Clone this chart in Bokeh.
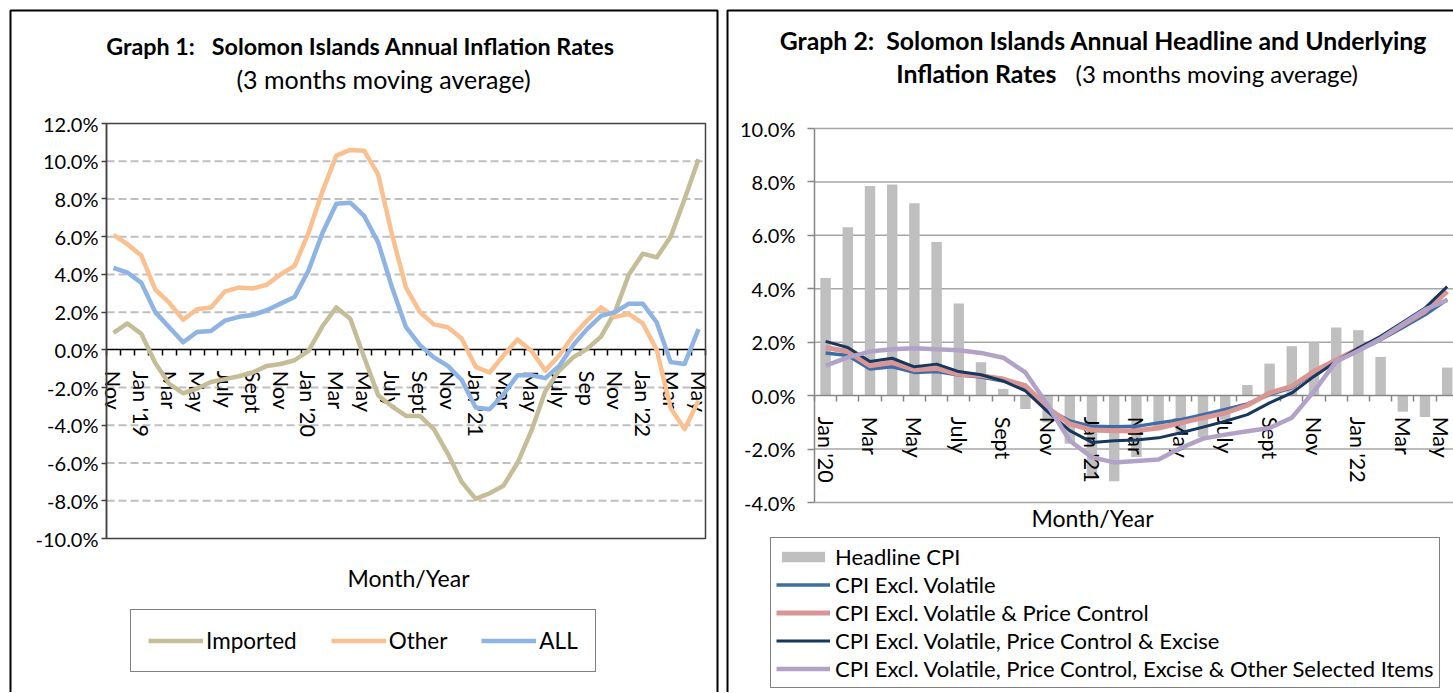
from math import pi
from bokeh.plotting import figure
from bokeh.models import (FixedTicker, PrintfTickFormatter, Label, Legend, LegendItem,
                          BoxAnnotation, Range1d)
from bokeh.layouts import row
from bokeh.embed import file_html
from bokeh.resources import INLINE

FONT = "Lato"
NB = "\u00a0"

# ---------------- Graph 1 data (Nov 2018 .. May 2022) ----------------
g1_months = ["Nov-18", "Dec-18",
             "Jan-19", "Feb-19", "Mar-19", "Apr-19", "May-19", "Jun-19", "Jul-19", "Aug-19", "Sep-19", "Oct-19", "Nov-19", "Dec-19",
             "Jan-20", "Feb-20", "Mar-20", "Apr-20", "May-20", "Jun-20", "Jul-20", "Aug-20", "Sep-20", "Oct-20", "Nov-20", "Dec-20",
             "Jan-21", "Feb-21", "Mar-21", "Apr-21", "May-21", "Jun-21", "Jul-21", "Aug-21", "Sep-21", "Oct-21", "Nov-21", "Dec-21",
             "Jan-22", "Feb-22", "Mar-22", "Apr-22", "May-22"]
g1_tick_labels = ["Nov", "Jan '19", "Mar", "May", "July", "Sept", "Nov", "Jan '20", "Mar", "May", "July",
                  "Sept", "Nov", "Jan '21", "Mar", "May", "July", "Sep", "Nov", "Jan '22", "Mar", "May"]
imported = [0.9, 1.4, 0.85, -0.7, -1.8, -2.3, -2.05, -1.7, -1.55, -1.4, -1.2, -0.85, -0.75, -0.55,
            -0.05, 1.25, 2.25, 1.65, -0.4, -2.4, -3.0, -3.5, -3.5, -4.2, -5.5, -7.0,
            -7.9, -7.6, -7.2, -6.0, -4.3, -2.2, -1.1, -0.4, 0.05, 0.7, 2.0, 4.0,
            5.1, 4.9, 6.0, 8.0, 10.1]
other = [6.1, 5.6, 5.0, 3.2, 2.5, 1.6, 2.15, 2.25, 3.1, 3.3, 3.25, 3.45, 4.0, 4.45,
         6.2, 8.4, 10.3, 10.6, 10.55, 9.3, 6.1, 3.3, 2.0, 1.35, 1.2, 0.6,
         -0.9, -1.2, -0.3, 0.55, -0.05, -1.1, -0.3, 0.75, 1.55, 2.25, 1.75, 1.9,
         1.4, 0.0, -3.1, -4.2, -2.7]
all_items = [4.35, 4.1, 3.55, 2.0, 1.2, 0.4, 0.95, 1.0, 1.55, 1.75, 1.85, 2.1, 2.45, 2.8,
             4.2, 6.2, 7.75, 7.8, 7.1, 5.7, 3.3, 1.2, 0.25, -0.4, -0.85, -1.6,
             -3.05, -3.15, -2.35, -1.35, -1.35, -1.5, -0.85, 0.25, 1.1, 1.8, 2.0, 2.45,
             2.45, 1.45, -0.65, -0.75, 1.1]
g1_yticks = [-10, -8, -6, -4, -2, 0, 2, 4, 6, 8, 10, 12]
g1_grid = [-8, -6, -4, -2, 2, 4, 6, 8, 10]

# ---------------- Graph 2 data (Jan 2020 .. May 2022) ----------------
g2_months = ["Jan-20", "Feb-20", "Mar-20", "Apr-20", "May-20", "Jun-20", "Jul-20", "Aug-20", "Sep-20", "Oct-20", "Nov-20", "Dec-20",
             "Jan-21", "Feb-21", "Mar-21", "Apr-21", "May-21", "Jun-21", "Jul-21", "Aug-21", "Sep-21", "Oct-21", "Nov-21", "Dec-21",
             "Jan-22", "Feb-22", "Mar-22", "Apr-22", "May-22"]
g2_tick_labels = ["Jan '20", "Mar", "May", "July", "Sept", "Nov", "Jan '21", "Mar", "May", "July",
                  "Sept", "Nov", "Jan '22", "Mar", "May"]
headline = [4.4, 6.3, 7.85, 7.9, 7.2, 5.75, 3.45, 1.25, 0.25, -0.5, -1.0, -1.8,
            -3.05, -3.2, -2.3, -1.2, -1.35, -1.55, -0.9, 0.4, 1.2, 1.85, 2.0, 2.55,
            2.45, 1.45, -0.6, -0.8, 1.05]
excl_volatile = [1.6, 1.5, 1.0, 1.08, 0.87, 0.9, 0.77, 0.7, 0.55, 0.25, -0.5, -0.95,
                 -1.15, -1.16, -1.15, -1.02, -0.9, -0.71, -0.52, -0.31, 0.04, 0.29, 0.85, 1.28,
                 1.68, 2.09, 2.55, 3.03, 3.6]
excl_vol_pc = [1.8, 1.65, 1.12, 1.24, 0.97, 1.02, 0.8, 0.75, 0.62, 0.37, -0.45, -1.06,
               -1.29, -1.31, -1.31, -1.21, -1.02, -0.83, -0.65, -0.36, 0.1, 0.35, 0.91, 1.34,
               1.76, 2.13, 2.65, 3.15, 3.9]
excl_vol_pc_exc = [2.03, 1.8, 1.28, 1.4, 1.08, 1.18, 0.9, 0.78, 0.55, 0.18, -0.6, -1.31,
                   -1.75, -1.69, -1.66, -1.58, -1.39, -1.18, -0.96, -0.71, -0.27, 0.1, 0.72, 1.28,
                   1.78, 2.22, 2.75, 3.28, 4.08]
excl_all_other = [1.12, 1.43, 1.65, 1.74, 1.77, 1.74, 1.7, 1.6, 1.42, 0.87, -0.35, -1.69,
                  -2.31, -2.5, -2.45, -2.39, -1.96, -1.61, -1.46, -1.33, -1.21, -0.83, 0.16, 1.28,
                  1.68, 2.13, 2.68, 3.22, 3.58]
g2_yticks = [-4, -2, 0, 2, 4, 6, 8, 10]
g2_grid = [-4, -2, 2, 4, 6, 8, 10]

# ---------------- layout (pixels) ----------------
H = 692
W1, W2 = 722, 731
A1_LEFT, A1_RIGHT, A1_TOP, A1_BOT = 106, 705, 123, 538
A2_LEFT, A2_STEP, A2_TOP, A2_BOT = 92, 22.2, 128, 502

n1 = len(g1_months)
step1 = (A1_RIGHT - A1_LEFT) / n1
x1s = -0.5 - A1_LEFT / step1
ys1 = (A1_BOT - A1_TOP) / (g1_yticks[-1] - g1_yticks[0])
y1t = g1_yticks[-1] + A1_TOP / ys1

n2 = len(g2_months)
x2s = -0.5 - A2_LEFT / A2_STEP
ys2 = (A2_BOT - A2_TOP) / (g2_yticks[-1] - g2_yticks[0])
y2t = g2_yticks[-1] + A2_TOP / ys2


def base_fig(w, xr, yr):
    p = figure(width=w, height=H, x_range=xr, y_range=yr, title=None,
               output_backend="svg", toolbar_location=None, min_border=0)
    p.background_fill_color = "white"
    p.border_fill_color = "white"
    p.outline_line_color = None
    p.xgrid.visible = False
    p.ygrid.visible = False
    return p


def style_xaxis(ax, n, labels, color):
    ticks = list(range(0, n, 2))
    ax.fixed_location = 0
    ax.bounds = (-0.5, n - 0.5)
    ax.ticker = FixedTicker(ticks=ticks, minor_ticks=[i - 0.5 for i in range(n + 1)])
    ax.major_label_overrides = {t: lab for t, lab in zip(ticks, labels)}
    ax.major_label_orientation = -pi / 2
    ax.major_tick_in = 0
    ax.major_tick_out = 0
    ax.minor_tick_in = 0
    ax.minor_tick_out = 6
    ax.minor_tick_line_color = color
    ax.minor_tick_line_width = 1.5
    ax.axis_line_color = color
    ax.axis_line_width = 1.5
    ax.major_label_text_font = FONT
    ax.major_label_text_font_size = "21.5px"
    ax.major_label_text_color = "black"
    ax.major_label_standoff = 15
    ax.level = "underlay"


def style_yaxis(ax, ticks, color, tick_out, standoff):
    ax.fixed_location = -0.5
    ax.bounds = (ticks[0], ticks[-1])
    ax.ticker = FixedTicker(ticks=ticks)
    ax.formatter = PrintfTickFormatter(format="%.1f%%")
    ax.major_tick_in = 0
    ax.major_tick_out = tick_out
    ax.minor_tick_line_color = None
    ax.axis_line_color = color
    ax.axis_line_width = 1.5
    ax.major_tick_line_color = color
    ax.major_tick_line_width = 1.5
    ax.major_label_text_font = FONT
    ax.major_label_text_font_size = "20px"
    ax.major_label_text_color = "black"
    ax.major_label_standoff = standoff


def text(p, x, y, s, bold=False, align="center", size="24px"):
    p.add_layout(Label(x=x, y=H - y, x_units="screen", y_units="screen", text=s,
                       text_font=FONT, text_font_style="bold" if bold else "normal",
                       text_font_size=size, text_align=align, text_baseline="middle",
                       text_color="black"))


def outer_box(p, left, right):
    p.add_layout(BoxAnnotation(left=left, right=right, top=H - 10, bottom=-20,
                               left_units="screen", right_units="screen",
                               top_units="screen", bottom_units="screen",
                               fill_alpha=0, fill_color=None, line_color="black",
                               line_alpha=1, line_width=2))


# =====================================================================
# Graph 1
# =====================================================================
x1 = list(range(n1))
p1 = base_fig(W1, Range1d(x1s, x1s + W1 / step1), Range1d(y1t - H / ys1, y1t))

p1.segment(x0=[-0.5] * len(g1_grid), x1=[n1 - 0.5] * len(g1_grid), y0=g1_grid, y1=g1_grid,
           line_color="#BFBFBF", line_width=2, line_dash="8 4", level="image")
p1.add_layout(BoxAnnotation(left=-0.5, right=n1 - 0.5, bottom=g1_yticks[0], top=g1_yticks[-1],
                            fill_alpha=0, fill_color=None, line_color="#404040", line_alpha=1,
                            line_width=1.5, level="underlay"))
style_xaxis(p1.xaxis[0], n1, g1_tick_labels, "black")
style_yaxis(p1.yaxis[0], g1_yticks, "#404040", 5, 3)

r_imp = p1.line(x1, imported, line_color="#C4BD97", line_width=4.5, line_join="round")
r_oth = p1.line(x1, other, line_color="#FAC090", line_width=4.5, line_join="round")
r_all = p1.line(x1, all_items, line_color="#8DB4E2", line_width=4.5, line_join="round")

leg1 = Legend(items=[LegendItem(label="Imported", renderers=[r_imp]),
                     LegendItem(label="Other", renderers=[r_oth]),
                     LegendItem(label="ALL", renderers=[r_all])],
              orientation="horizontal", location=(130, H - 672), glyph_width=55, glyph_height=17,
              label_standoff=3, spacing=34, padding=17, margin=0,
              border_line_color="black", border_line_width=1.2,
              label_text_font=FONT, label_text_font_size="22.5px", label_text_color="black",
              background_fill_color="white", background_fill_alpha=1)
p1.add_layout(leg1, "center")

text(p1, 360, 45, f"Graph 1:{NB}{NB} Solomon Islands Annual Inflation Rates", bold=True, size="23.3px")
text(p1, 383, 78, "(3 months moving average)", size="25px")
text(p1, 408, 577, "Month/Year", size="23px")
outer_box(p1, 10, 717)

# =====================================================================
# Graph 2
# =====================================================================
x2 = list(range(n2))
p2 = base_fig(W2, Range1d(x2s, x2s + W2 / A2_STEP), Range1d(y2t - H / ys2, y2t))

p2.segment(x0=[-0.5] * len(g2_grid), x1=[n2 - 0.5] * len(g2_grid), y0=g2_grid, y1=g2_grid,
           line_color="#A6A6A6", line_width=1.5, level="image")
r_bar = p2.vbar(x=x2, top=headline, width=0.47, fill_color="#BFBFBF", line_color=None,
                level="image")
style_xaxis(p2.xaxis[0], n2, g2_tick_labels, "#868686")
style_yaxis(p2.yaxis[0], g2_yticks, "#868686", 7, 12)

r_v = p2.line(x2, excl_volatile, line_color="#3D6CA6", line_width=3.5, line_join="round")
r_pc = p2.line(x2, excl_vol_pc, line_color="#D99694", line_width=5, line_join="round")
r_exc = p2.line(x2, excl_vol_pc_exc, line_color="#17375E", line_width=3, line_join="round")
r_o = p2.line(x2, excl_all_other, line_color="#B3A2C7", line_width=4.5, line_join="round")

leg2 = Legend(items=[LegendItem(label="Headline CPI", renderers=[r_bar]),
                     LegendItem(label="CPI Excl. Volatile", renderers=[r_v]),
                     LegendItem(label="CPI Excl. Volatile & Price Control", renderers=[r_pc]),
                     LegendItem(label="CPI Excl. Volatile, Price Control & Excise", renderers=[r_exc]),
                     LegendItem(label="CPI Excl. Volatile, Price Control, Excise & Other Selected Items",
                                renderers=[r_o])],
              orientation="vertical", location=(48, H - 688), glyph_width=54, glyph_height=13,
              label_height=20, label_standoff=5, spacing=1, padding=5, margin=0,
              border_line_color="black", border_line_width=1.2,
              label_text_font=FONT, label_text_font_size="22px", label_text_color="black",
              background_fill_color="white", background_fill_alpha=1)
p2.add_layout(leg2, "center")

text(p2, 381, 40, f"Graph 2:{NB} Solomon Islands Annual Headline and Underlying", bold=True, size="24.8px")
text(p2, 334, 73, "Inflation Rates", bold=True, align="right", size="24.8px")
text(p2, 353, 73, "(3 months moving average)", align="left")
text(p2, 370, 517, "Month/Year", size="23px")
outer_box(p2, 5, W2 + 20)

layout = row(p1, p2)
open("out.html", "w").write(file_html(layout, INLINE))
